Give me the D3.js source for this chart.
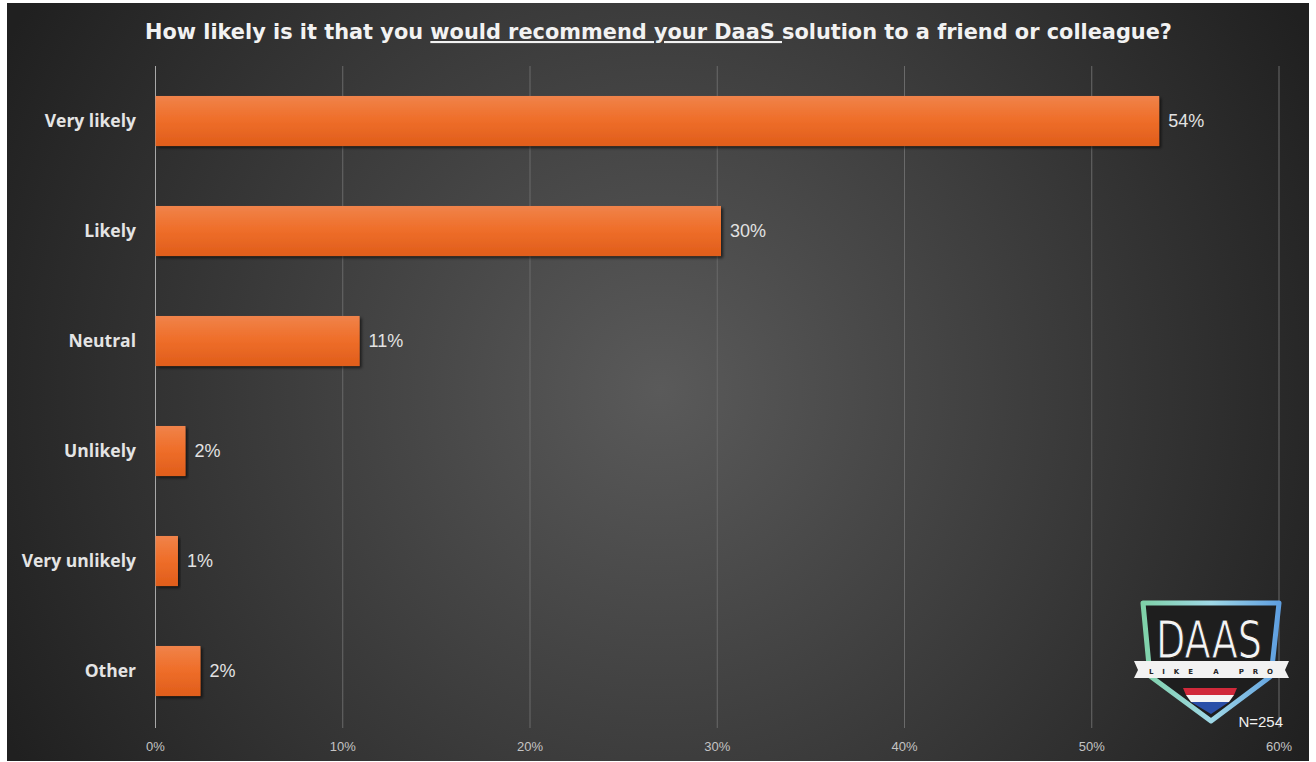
<!DOCTYPE html>
<html>
<head>
<meta charset="utf-8">
<script src="https://cdn.jsdelivr.net/npm/d3@7"></script>
<style>
  html, body { margin: 0; padding: 0; background: #ffffff; }
  svg { display: block; }
</style>
</head>
<body>
<svg id="chart"></svg>
<script>
// Data ***********************************************************************
const categories = ["Very likely", "Likely", "Neutral", "Unlikely", "Very unlikely", "Other"];
const values = [53.6, 30.2, 10.9, 1.6, 1.2, 2.4];          // bar lengths in %
const valueLabels = ["54%", "30%", "11%", "2%", "1%", "2%"];
const ticks = [0, 10, 20, 30, 40, 50, 60];
const sampleSize = "N=254";

// Setup **********************************************************************
const width = 1316, height = 762;
const svg = d3.select("#chart").attr("width", width).attr("height", height);
const defs = svg.append("defs");

// Background gradient (lighter in the middle)
const bg = defs.append("radialGradient").attr("id", "bgGrad")
    .attr("gradientUnits", "userSpaceOnUse")
    .attr("cx", 660).attr("cy", 390).attr("r", 740);
bg.append("stop").attr("offset", "0%").attr("stop-color", "#5a5a5a");
bg.append("stop").attr("offset", "100%").attr("stop-color", "#202020");

// Bar gradient
const barGrad = defs.append("linearGradient").attr("id", "barGrad")
    .attr("x1", 0).attr("y1", 0).attr("x2", 0).attr("y2", 1);
barGrad.append("stop").attr("offset", "0%").attr("stop-color", "#f0834a");
barGrad.append("stop").attr("offset", "45%").attr("stop-color", "#ef6f2b");
barGrad.append("stop").attr("offset", "100%").attr("stop-color", "#e05d1a");

// Shadow for bars
const shadow = defs.append("filter").attr("id", "shadow")
    .attr("x", "-5%").attr("y", "-10%").attr("width", "115%").attr("height", "130%");
shadow.append("feDropShadow").attr("dx", 2).attr("dy", 2).attr("stdDeviation", 1.5)
    .attr("flood-color", "#000").attr("flood-opacity", 0.6);

svg.append("rect")
    .attr("x", 7).attr("y", 3)
    .attr("width", 1302).attr("height", 758)
    .attr("fill", "url(#bgGrad)");

// Scales *********************************************************************
const x = d3.scaleLinear().domain([0, 60]).range([155.5, 1279]);
const y = d3.scaleBand().domain(categories).range([66, 726]).paddingInner(0.545).paddingOuter(0.2725);

// Gridlines
svg.append("g").selectAll("line")
    .data(ticks)
    .enter().append("line")
    .attr("x1", d => x(d)).attr("x2", d => x(d))
    .attr("y1", 66).attr("y2", 728)
    .attr("stroke", d => d === 0 ? "#a8a8a8" : "#6a6a6a")
    .attr("stroke-width", 1);

// Tick labels
svg.append("g").selectAll("text")
    .data(ticks)
    .enter().append("text")
    .attr("x", d => x(d))
    .attr("y", 751)
    .attr("text-anchor", "middle")
    .style("font-family", "'Liberation Sans Narrow', 'Liberation Sans', Arial, sans-serif")
    .style("font-size", "13px")
    .style("fill", "#c4c4c4")
    .text(d => d + "%");

// Bars
svg.append("g").selectAll("rect")
    .data(categories)
    .enter().append("rect")
    .attr("x", x(0))
    .attr("y", d => y(d))
    .attr("width", (d, i) => x(values[i]) - x(0))
    .attr("height", y.bandwidth())
    .attr("fill", "url(#barGrad)")
    .attr("filter", "url(#shadow)");

// Value labels
svg.append("g").selectAll("text")
    .data(categories)
    .enter().append("text")
    .attr("x", (d, i) => x(values[i]) + 9)
    .attr("y", d => y(d) + y.bandwidth() / 2 + 6)
    .style("font-family", "'Liberation Sans', Arial, sans-serif")
    .style("font-size", "18px")
    .style("fill", "#e2e2e2")
    .text((d, i) => valueLabels[i]);

// Category labels
svg.append("g").selectAll("text")
    .data(categories)
    .enter().append("text")
    .attr("x", 136)
    .attr("y", d => y(d) + y.bandwidth() / 2 + 6)
    .attr("text-anchor", "end")
    .style("font-family", "'Open Sans', 'Noto Sans', sans-serif")
    .style("font-weight", "bold")
    .style("font-size", "17.5px")
    .style("fill", "#e4e4e4")
    .text(d => d);

// Title
const title = svg.append("text")
    .attr("x", 145).attr("y", 39)
    .attr("textLength", 1027)
    .attr("lengthAdjust", "spacingAndGlyphs")
    .style("font-family", "'Liberation Sans Narrow', 'DejaVu Sans Condensed', 'Roboto', sans-serif")
    .style("font-weight", "bold")
    .style("font-size", "21px")
    .style("fill", "#f2f2f2");
title.append("tspan").text("How likely is it that you ");
title.append("tspan").style("text-decoration", "underline").text("would recommend your DaaS ");
title.append("tspan").text("solution to a friend or colleague?");

// Logo (decorative shield) ***************************************************
const logo = svg.append("g");
const shieldGrad = defs.append("linearGradient").attr("id", "shieldGrad")
    .attr("x1", 0).attr("y1", 0).attr("x2", 1).attr("y2", 0);
shieldGrad.append("stop").attr("offset", "0%").attr("stop-color", "#7fd1a8");
shieldGrad.append("stop").attr("offset", "50%").attr("stop-color", "#9fd8e6");
shieldGrad.append("stop").attr("offset", "100%").attr("stop-color", "#5f9fe0");

logo.append("path")
    .attr("d", "M1143,603 L1279,603 L1271,676 L1211,721 L1150,676 Z")
    .attr("fill", "#1e1e1e")
    .attr("stroke", "url(#shieldGrad)")
    .attr("stroke-width", 5)
    .attr("stroke-linejoin", "round");
logo.append("text")
    .attr("x", 1209).attr("y", 658)
    .attr("text-anchor", "middle")
    .attr("textLength", 106)
    .attr("lengthAdjust", "spacingAndGlyphs")
    .style("font-family", "'Liberation Sans Narrow', 'DejaVu Sans Condensed', sans-serif")
    .style("font-size", "52px")
    .style("fill", "#f4f4f4")
    .style("stroke", "#1a1a1a")
    .style("stroke-width", 1)
    .text("DAAS");
logo.append("path")
    .attr("d", "M1134,661 L1289,661 L1285,670 L1289,678 L1134,678 L1138,670 Z")
    .attr("fill", "#f2f2f2");
logo.append("text")
    .attr("x", 1211).attr("y", 674)
    .attr("text-anchor", "middle")
    .attr("textLength", 124)
    .attr("lengthAdjust", "spacing")
    .style("font-family", "'DejaVu Sans', sans-serif")
    .style("font-weight", "bold")
    .style("font-size", "7px")
    .style("fill", "#222")
    .text("LIKE   A   PRO");
// Flag triangle
logo.append("path").attr("d", "M1183,688 L1237,688 L1234,695 L1186,695 Z").attr("fill", "#d0293a");
logo.append("path").attr("d", "M1186,695 L1234,695 L1229,702 L1191,702 Z").attr("fill", "#f4f4f4");
logo.append("path").attr("d", "M1191,702 L1229,702 L1211,714 Z").attr("fill", "#2a4fa8");

// Sample size
svg.append("text")
    .attr("x", 1283).attr("y", 727)
    .attr("text-anchor", "end")
    .style("font-family", "'Liberation Sans', Arial, sans-serif")
    .style("font-size", "15px")
    .style("fill", "#f0f0f0")
    .text(sampleSize);
</script>
</body>
</html>
